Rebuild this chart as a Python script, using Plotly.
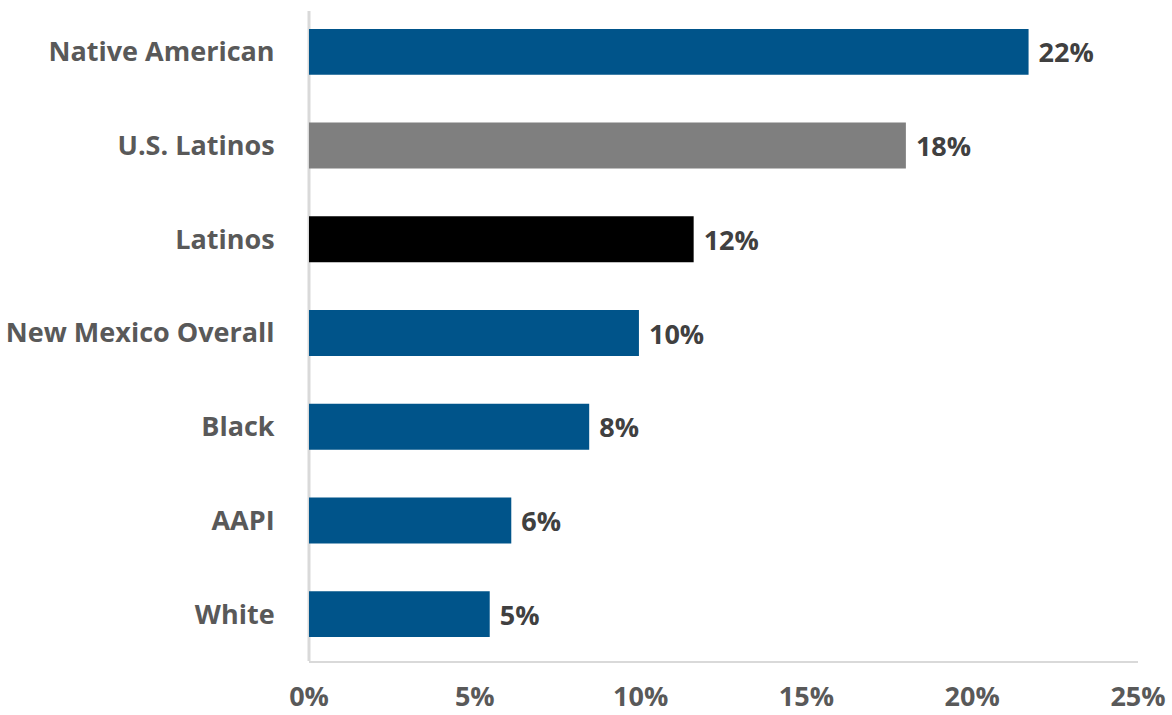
import plotly.graph_objects as go

# Share of each group, in percent (top to bottom as displayed)
groups = ["Native American", "U.S. Latinos", "Latinos", "New Mexico Overall",
          "Black", "AAPI", "White"]
values = [21.7, 18.0, 11.6, 9.95, 8.45, 6.1, 5.45]
bar_colors = ["#00548A", "#7F7F7F", "#000000", "#00548A",
              "#00548A", "#00548A", "#00548A"]
x_ticks = [0, 5, 10, 15, 20, 25]
x_tick_labels = ["0%", "5%", "10%", "15%", "20%", "25%"]

font_family = "Open Sans"
font_size = 27
axis_color = "#D9D9D9"

fig = go.Figure(
    go.Bar(
        x=values,
        y=groups,
        orientation="h",
        marker=dict(color=bar_colors, line=dict(width=0)),
        texttemplate=" %{x:.0f}%",
        textposition="outside",
        textfont=dict(family=font_family, size=font_size, color="#404040", weight="bold"),
        cliponaxis=False,
        hoverinfo="skip",
    )
)

top, bottom = 5, 54
plot_h = 715 - top - bottom

fig.update_layout(
    width=1172,
    height=715,
    margin=dict(l=309, r=34, t=top, b=bottom, autoexpand=False),
    plot_bgcolor="white",
    paper_bgcolor="white",
    bargap=0.51,
    showlegend=False,
    font=dict(family=font_family, size=font_size, color="#595959", weight="bold"),
)

# vertical axis line, stopping a little short of the top of the plot area
fig.add_shape(
    type="line", xref="paper", yref="paper", layer="below",
    x0=0, x1=0, y0=0, y1=(plot_h - 6) / plot_h,
    line=dict(color=axis_color, width=3),
)

fig.update_xaxes(
    range=[0, 25],
    tickvals=x_ticks,
    ticktext=x_tick_labels,
    showgrid=False,
    zeroline=False,
    showline=True,
    linecolor=axis_color,
    linewidth=2,
    ticks="",
    automargin=False,
    ticklabelstandoff=11,
    tickfont=dict(family=font_family, size=font_size, color="#595959", weight="bold"),
)

fig.update_yaxes(
    categoryorder="array",
    categoryarray=groups[::-1],
    showgrid=False,
    zeroline=False,
    showline=False,
    ticks="outside",
    ticklen=28,
    tickcolor="rgba(0,0,0,0)",
    automargin=False,
    tickfont=dict(family=font_family, size=font_size, color="#595959", weight="bold"),
)

fig.write_html("out.html")
